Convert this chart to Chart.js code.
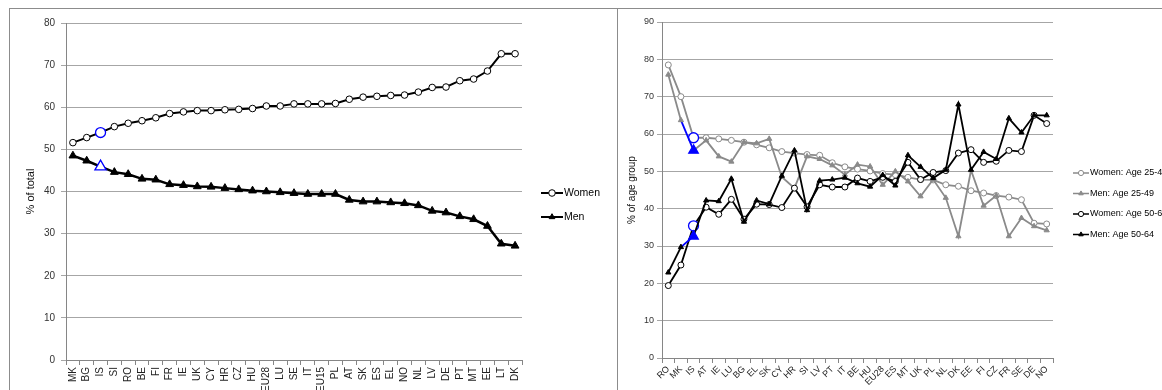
<!DOCTYPE html>
<html>
<head>
<meta charset="utf-8">
<script src="https://cdn.jsdelivr.net/npm/chart.js"></script>
<style>
  html, body { margin: 0; padding: 0; background: #fff; overflow: hidden; width: 1162px; height: 390px; }
  .frame { position: absolute; border: 1px solid #8c8c8c; border-bottom: none; border-right: none; }
  #leftFrame { left: 9px; top: 8px; width: 608px; height: 400px; }
  #rightFrame { left: 617px; top: 8px; width: 560px; height: 400px; }
  .box { position: absolute; }
  #leftBox { left: 10px; top: 9px; width: 607px; height: 420px; }
  #rightBox { left: 618px; top: 9px; width: 600px; height: 420px; }
</style>
</head>
<body>
<div class="frame" id="leftFrame"></div>
<div class="frame" id="rightFrame"></div>
<div class="box" id="leftBox"><canvas id="shareChart"></canvas></div>
<div class="box" id="rightBox"><canvas id="ageChart"></canvas></div>
<script>
// Left chart: share of total, by sex
const countriesShare = ['MK', 'BG', 'IS', 'SI', 'RO', 'BE', 'FI', 'FR', 'IE', 'UK', 'CY', 'HR', 'CZ', 'HU', 'EU28', 'LU',
    'SE', 'IT', 'EU15', 'PL', 'AT', 'SK', 'ES', 'EL', 'NO', 'NL', 'LV', 'DE', 'PT', 'MT', 'EE', 'LT', 'DK'];
const womenShare = [51.6, 52.8, 54.0, 55.4, 56.2, 56.8, 57.5, 58.5, 58.9, 59.2, 59.2, 59.4, 59.5, 59.7, 60.3, 60.3,
    60.8, 60.8, 60.8, 60.9, 61.9, 62.4, 62.6, 62.8, 62.9, 63.6, 64.7, 64.8, 66.3, 66.7, 68.6, 72.7, 72.7];
const menShare = [48.5, 47.3, 45.9, 44.6, 44.1, 43.0, 42.8, 41.7, 41.5, 41.2, 41.1, 40.8, 40.5, 40.2, 40.0, 39.8,
    39.6, 39.4, 39.4, 39.4, 38.0, 37.6, 37.6, 37.4, 37.2, 36.7, 35.4, 35.0, 34.1, 33.4, 31.8, 27.6, 27.1];
const shareTicks = [0, 10, 20, 30, 40, 50, 60, 70, 80];

// Right chart: % of age group
const countriesAge = ['RO', 'MK', 'IS', 'AT', 'IE', 'LU', 'BG', 'EL', 'SK', 'CY', 'HR', 'SI', 'LV', 'PT', 'IT', 'BE',
    'HU', 'EU28', 'ES', 'MT', 'UK', 'PL', 'NL', 'DK', 'EE', 'FI', 'CZ', 'FR', 'SE', 'DE', 'NO'];
const women2549 = [78.5, 70.0, 59.0, 59.0, 58.7, 58.3, 57.8, 57.1, 56.3, 55.3, 54.9, 54.5, 54.3, 52.3, 51.2, 50.6,
    50.1, 49.4, 49.1, 48.4, 47.8, 47.7, 46.4, 46.0, 44.8, 44.2, 43.5, 43.1, 42.4, 36.1, 35.9];
const men2549 = [75.9, 63.7, 55.6, 58.3, 54.0, 52.6, 57.8, 57.5, 58.7, 48.5, 45.5, 54.0, 53.3, 51.6, 49.1, 51.8,
    51.3, 46.4, 50.0, 47.3, 43.3, 47.8, 42.9, 32.6, 50.3, 40.8, 43.5, 32.6, 37.5, 35.3, 34.2];
const women5064 = [19.4, 24.9, 35.4, 40.4, 38.5, 42.5, 37.2, 41.2, 41.1, 40.3, 45.5, 40.5, 46.4, 45.8, 45.8, 48.2,
    47.3, 48.4, 47.3, 52.4, 47.8, 49.7, 50.2, 54.9, 55.8, 52.4, 52.7, 55.6, 55.3, 65.0, 62.8];
const men5064 = [22.9, 29.7, 32.6, 42.2, 42.0, 48.0, 36.5, 42.2, 41.2, 48.8, 55.6, 39.6, 47.5, 47.8, 48.3, 46.8,
    45.9, 49.0, 46.2, 54.3, 51.2, 48.2, 50.4, 67.9, 50.4, 55.2, 53.3, 64.2, 60.4, 65.0, 65.0];
const ageTicks = [0, 10, 20, 30, 40, 50, 60, 70, 80, 90];

const highlight = 'IS';
const blue = '#0000ff';
const gray = '#8a8a8a';
const gridColor = '#a6a6a6';
const axisColor = '#868686';
const fontFamily = "'Liberation Sans', Arial, sans-serif";

// Excel-style legend: short line with marker in the middle, then the label
const lineLegend = {
    id: 'lineLegend',
    afterDraw(chart, args, opts) {
        const ctx = chart.ctx;
        chart.data.datasets.forEach((ds, i) => {
            const y = opts.y + i * opts.gap;
            const x = opts.x;
            ctx.save();
            ctx.strokeStyle = ds.legendColor;
            ctx.lineWidth = opts.lineWidth;
            ctx.beginPath();
            ctx.moveTo(x, y);
            ctx.lineTo(x + opts.len, y);
            ctx.stroke();

            const cx = x + opts.len / 2;
            const r = opts.radius;
            ctx.beginPath();
            if (ds.pointStyle === 'triangle') {
                let rad = 0;
                for (let k = 0; k < 3; k++) {
                    const px = cx + Math.sin(rad) * r;
                    const py = y - Math.cos(rad) * r;
                    if (k === 0) ctx.moveTo(px, py); else ctx.lineTo(px, py);
                    rad += Math.PI * 2 / 3;
                }
                ctx.closePath();
                ctx.fillStyle = ds.legendColor;
            } else {
                ctx.arc(cx, y, r, 0, Math.PI * 2);
                ctx.fillStyle = '#fff';
            }
            ctx.fill();
            ctx.lineWidth = 1;
            ctx.stroke();

            ctx.fillStyle = '#000';
            ctx.font = opts.fontSize + 'px ' + fontFamily;
            ctx.textBaseline = 'middle';
            ctx.textAlign = 'left';
            ctx.fillText(ds.label, x + opts.len + 1, y);
            ctx.restore();
        });
    }
};

function isHl(labels, ctx) {
    return labels[ctx.dataIndex] === highlight;
}

function makeSeries(labels, label, data, color, style, opts) {
    const filled = style === 'triangle';
    return {
        label: label,
        data: data,
        legendColor: color,
        borderColor: color,
        borderWidth: opts.lineWidth,
        pointStyle: style,
        pointRadius: ctx => isHl(labels, ctx) ? opts.hlRadius : opts.radius,
        pointHoverRadius: ctx => isHl(labels, ctx) ? opts.hlRadius : opts.radius,
        pointBorderWidth: ctx => isHl(labels, ctx) ? 1.3 : 1,
        pointBorderColor: ctx => isHl(labels, ctx) ? blue : color,
        pointBackgroundColor: ctx => {
            if (isHl(labels, ctx)) return (filled && opts.hlFill) ? blue : '#fff';
            return filled ? color : '#fff';
        },
        segment: {
            borderColor: ctx => (opts.blueSegment && labels[ctx.p1DataIndex] === highlight) ? blue : undefined
        },
        tension: 0,
        order: opts.order
    };
}

function axisFont(size) {
    return { family: fontFamily, size: size };
}

// Left chart
new Chart(document.getElementById('shareChart'), {
    type: 'line',
    data: {
        labels: countriesShare,
        datasets: [
            makeSeries(countriesShare, 'Women', womenShare, '#000', 'circle',
                { lineWidth: 2, radius: 3.3, hlRadius: 5, order: 1 }),
            makeSeries(countriesShare, 'Men', menShare, '#000', 'triangle',
                { lineWidth: 2.5, radius: 4.5, hlRadius: 6.5, hlFill: false, order: 0 })
        ]
    },
    options: {
        responsive: true,
        maintainAspectRatio: false,
        animation: false,
        layout: { padding: { top: 14, right: 95, left: 0, bottom: 0 } },
        plugins: {
            legend: { display: false },
            tooltip: { enabled: false },
            lineLegend: { x: 531, y: 184, gap: 24, len: 22, radius: 3.3, lineWidth: 2, fontSize: 10.5 }
        },
        scales: {
            x: {
                offset: true,
                grid: { offset: true, drawOnChartArea: false, tickLength: 5, color: axisColor },
                border: { color: axisColor },
                ticks: { autoSkip: false, minRotation: 90, maxRotation: 90, padding: 2, font: axisFont(10), color: '#222' },
                afterFit: s => { s.height = 69; }
            },
            y: {
                min: 0,
                max: 80,
                afterBuildTicks: s => { s.ticks = shareTicks.map(v => ({ value: v })); },
                grid: { color: gridColor, tickLength: 5 },
                border: { color: axisColor },
                ticks: { padding: 6, font: axisFont(10), color: '#333' },
                title: { display: true, text: '% of total', font: axisFont(11), color: '#111', padding: { top: 14, bottom: 0 } },
                afterFit: s => { s.width = 56; }
            }
        }
    },
    plugins: [lineLegend]
});

// Right chart
new Chart(document.getElementById('ageChart'), {
    type: 'line',
    data: {
        labels: countriesAge,
        datasets: [
            makeSeries(countriesAge, 'Women: Age 25-49', women2549, gray, 'circle',
                { lineWidth: 1.8, radius: 3, hlRadius: 5, order: 3 }),
            makeSeries(countriesAge, 'Men: Age 25-49', men2549, gray, 'triangle',
                { lineWidth: 1.8, radius: 3, hlRadius: 5.5, hlFill: true, blueSegment: true, order: 2 }),
            makeSeries(countriesAge, 'Women: Age 50-64', women5064, '#000', 'circle',
                { lineWidth: 1.8, radius: 3, hlRadius: 5, order: 1 }),
            makeSeries(countriesAge, 'Men: Age 50-64', men5064, '#000', 'triangle',
                { lineWidth: 1.8, radius: 3, hlRadius: 5.5, hlFill: true, blueSegment: true, order: 0 })
        ]
    },
    options: {
        responsive: true,
        maintainAspectRatio: false,
        animation: false,
        layout: { padding: { top: 13, right: 165, left: 0, bottom: 0 } },
        plugins: {
            legend: { display: false },
            tooltip: { enabled: false },
            lineLegend: { x: 455, y: 164, gap: 20.5, len: 16, radius: 2.6, lineWidth: 1.5, fontSize: 9 }
        },
        scales: {
            x: {
                offset: true,
                grid: { offset: true, drawOnChartArea: false, tickLength: 5, color: axisColor },
                border: { color: axisColor },
                ticks: { autoSkip: false, minRotation: 45, maxRotation: 45, padding: 1, font: axisFont(9), color: '#222' },
                afterFit: s => { s.height = 71; }
            },
            y: {
                min: 0,
                max: 90,
                afterBuildTicks: s => { s.ticks = ageTicks.map(v => ({ value: v })); },
                grid: { color: gridColor, tickLength: 5 },
                border: { color: axisColor },
                ticks: { padding: 3, font: axisFont(9), color: '#333' },
                title: { display: true, text: '% of age group', font: axisFont(10), color: '#111', padding: { top: 8, bottom: 0 } },
                afterFit: s => { s.width = 44; }
            }
        }
    },
    plugins: [lineLegend]
});
</script>
</body>
</html>
